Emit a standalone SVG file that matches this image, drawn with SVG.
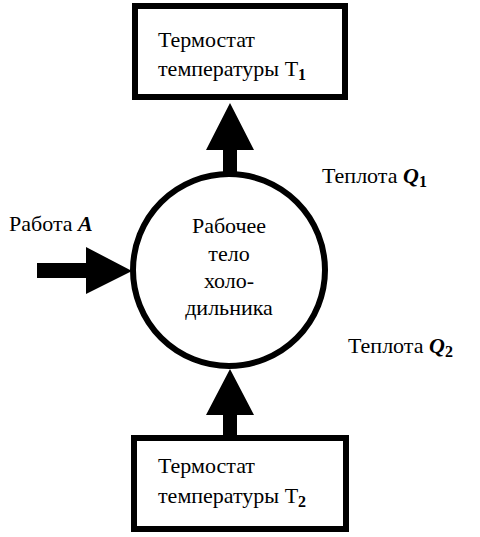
<svg xmlns="http://www.w3.org/2000/svg" width="480" height="537" viewBox="0 0 480 537">
<style>
.box{fill:#fff;stroke:#000;stroke-width:6}
.t{font-family:"Liberation Serif","Times New Roman",serif;font-size:22px;fill:#000}
.c{text-anchor:middle}
.bi{font-weight:bold;font-style:italic}
.sub{font-weight:bold;font-size:16px}
.arr{fill:#000}
</style>
<rect width="480" height="537" fill="#fff"/>
<g id="connectors">
<polygon class="arr" points="223,176 223,150 206,150 230,103 254,150 237,150 237,176"/>
<polygon class="arr" points="223,438 223,415 206,415 230,369 254,415 237,415 237,438"/>
<polygon class="arr" points="37,263 86,263 86,247 132,271 86,294 86,278 37,278"/>
</g>
<g id="thermostat1">
<rect class="box" x="135" y="6" width="210" height="91"/>
<text class="t" x="158" y="47">Термостат</text>
<text class="t" x="158" y="76">температуры T<tspan class="sub" dy="4">1</tspan></text>
</g>
<g id="body">
<circle cx="229" cy="270" r="96" fill="#fff" stroke="#000" stroke-width="6"/>
<text class="t c" x="229" y="233">Рабочее</text>
<text class="t c" x="229" y="261">тело</text>
<text class="t c" x="229" y="288">холо-</text>
<text class="t c" x="229" y="315">дильника</text>
</g>
<g id="thermostat2">
<rect class="box" x="134" y="438" width="212" height="91"/>
<text class="t" x="158" y="473">Термостат</text>
<text class="t" x="158" y="503">температуры T<tspan class="sub" dy="4">2</tspan></text>
</g>
<g id="labels">
<text class="t" x="9" y="231">Работа <tspan class="bi">A</tspan></text>
<text class="t" x="322" y="183">Теплота <tspan class="bi">Q</tspan><tspan class="sub" dy="4">1</tspan></text>
<text class="t" x="348" y="353">Теплота <tspan class="bi">Q</tspan><tspan class="sub" dy="4">2</tspan></text>
</g>
</svg>
